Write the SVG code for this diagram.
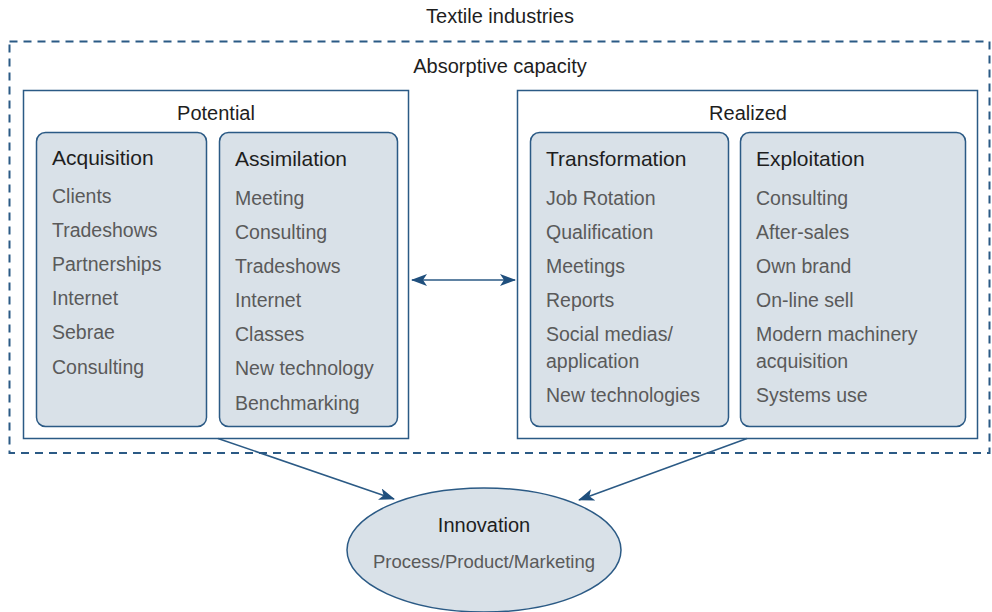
<svg xmlns="http://www.w3.org/2000/svg" width="992" height="612" viewBox="0 0 992 612">
  <style>
    .t { font-family: "Liberation Sans", Arial, sans-serif; }
    .lbl { font-size: 20px; fill: #1e1e1e; }
    .head { font-size: 21px; fill: #1e1e1e; }
    .item { font-size: 19.5px; fill: #5a5a5a; }
    .sub { font-size: 18.5px; fill: #5a5a5a; }
    .frame { fill: #ffffff; stroke: #2b5a85; stroke-width: 1.5; }
    .card { fill: #d9e1e8; stroke: #2b5a85; stroke-width: 1.5; }
    .conn { fill: none; stroke: #2b5a85; stroke-width: 1.5; }
  </style>
  <defs>
    <marker id="arr" viewBox="0 0 16 12" refX="15" refY="6" markerWidth="16" markerHeight="12" markerUnits="userSpaceOnUse" orient="auto-start-reverse">
      <path d="M0,0 L16,6 L0,12 L4,6 Z" fill="#1f4f7d"/>
    </marker>
  </defs>
  <rect width="992" height="612" fill="#ffffff"/>

  <text class="t lbl" x="500" y="23" text-anchor="middle">Textile industries</text>

  <g id="textile-industries">
    <rect x="9.5" y="41.5" width="980" height="411.5" fill="none" stroke="#2b5a85" stroke-width="2" stroke-dasharray="8,6"/>
  </g>

  <text class="t lbl" x="500" y="73" text-anchor="middle">Absorptive capacity</text>

  <g id="potential">
    <rect class="frame" x="23.5" y="90.5" width="385" height="348"/>
    <text class="t lbl" x="216" y="120" text-anchor="middle">Potential</text>
  </g>
  <g id="acquisition">
    <rect class="card" x="36.5" y="132.5" width="170" height="294" rx="9"/>
    <text class="t head" x="52" y="165">Acquisition</text>
    <text class="t item" x="52" y="203">Clients</text>
    <text class="t item" x="52" y="237">Tradeshows</text>
    <text class="t item" x="52" y="271">Partnerships</text>
    <text class="t item" x="52" y="305">Internet</text>
    <text class="t item" x="52" y="339">Sebrae</text>
    <text class="t item" x="52" y="374">Consulting</text>
  </g>
  <g id="assimilation">
    <rect class="card" x="219.5" y="132.5" width="178" height="294" rx="9"/>
    <text class="t head" x="235" y="166">Assimilation</text>
    <text class="t item" x="235" y="205">Meeting</text>
    <text class="t item" x="235" y="239">Consulting</text>
    <text class="t item" x="235" y="273">Tradeshows</text>
    <text class="t item" x="235" y="307">Internet</text>
    <text class="t item" x="235" y="341">Classes</text>
    <text class="t item" x="235" y="375">New technology</text>
    <text class="t item" x="235" y="410">Benchmarking</text>
  </g>

  <g id="realized">
    <rect class="frame" x="517.5" y="90.5" width="460" height="348"/>
    <text class="t lbl" x="748" y="120" text-anchor="middle">Realized</text>
  </g>
  <g id="transformation">
    <rect class="card" x="530.5" y="132.5" width="198" height="294" rx="9"/>
    <text class="t head" x="546" y="166">Transformation</text>
    <text class="t item" x="546" y="205">Job Rotation</text>
    <text class="t item" x="546" y="239">Qualification</text>
    <text class="t item" x="546" y="273">Meetings</text>
    <text class="t item" x="546" y="307">Reports</text>
    <text class="t item" x="546" y="341">Social medias/</text>
    <text class="t item" x="546" y="368">application</text>
    <text class="t item" x="546" y="402">New technologies</text>
  </g>
  <g id="exploitation">
    <rect class="card" x="740.5" y="132.5" width="225" height="294" rx="9"/>
    <text class="t head" x="756" y="166">Exploitation</text>
    <text class="t item" x="756" y="205">Consulting</text>
    <text class="t item" x="756" y="239">After-sales</text>
    <text class="t item" x="756" y="273">Own brand</text>
    <text class="t item" x="756" y="307">On-line sell</text>
    <text class="t item" x="756" y="341">Modern machinery</text>
    <text class="t item" x="756" y="368">acquisition</text>
    <text class="t item" x="756" y="402">Systems use</text>
  </g>

  <g id="innovation">
    <ellipse class="card" cx="484" cy="550" rx="137" ry="62"/>
    <text class="t lbl" x="484" y="532" text-anchor="middle">Innovation</text>
    <text class="t sub" x="484" y="568" text-anchor="middle">Process/Product/Marketing</text>
  </g>

  <g id="connectors">
    <line class="conn" x1="412" y1="280" x2="515" y2="280" marker-start="url(#arr)" marker-end="url(#arr)"/>
    <line class="conn" x1="218" y1="438.5" x2="394" y2="499" marker-end="url(#arr)"/>
    <line class="conn" x1="747" y1="438.5" x2="579" y2="500" marker-end="url(#arr)"/>
  </g>
</svg>
